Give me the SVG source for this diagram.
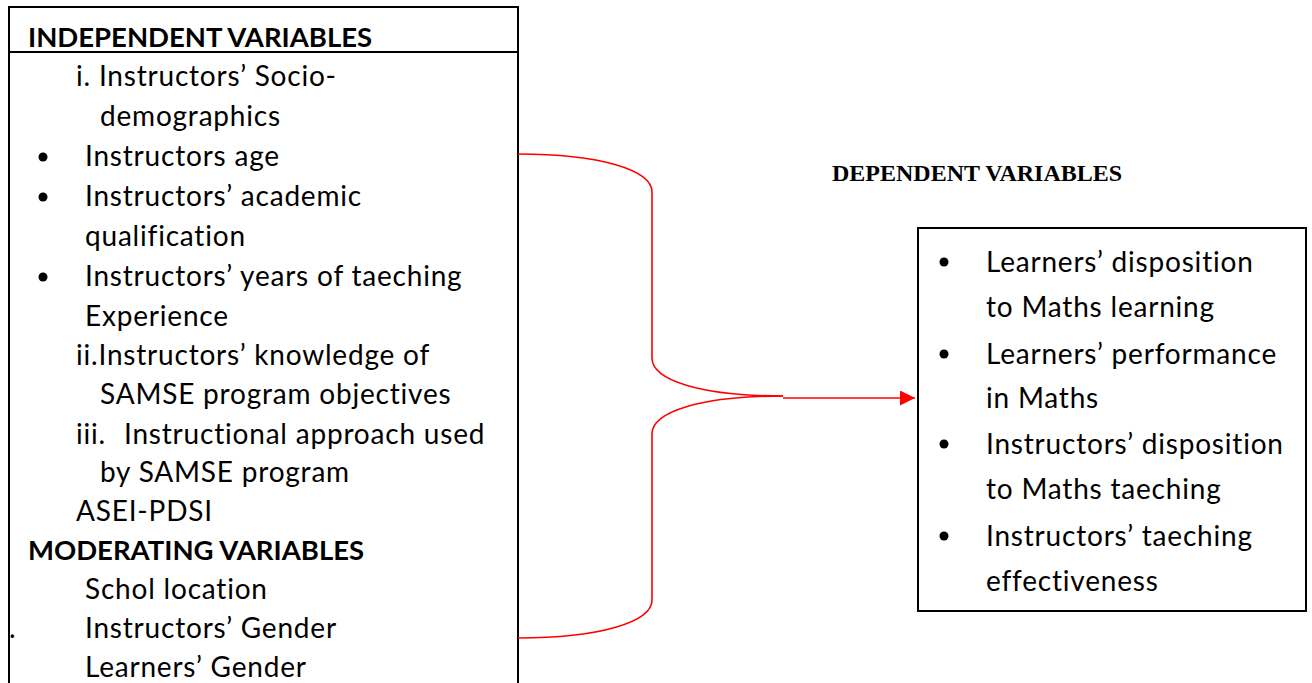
<svg xmlns="http://www.w3.org/2000/svg" width="1312" height="683" viewBox="0 0 1312 683">
<style>
.t{font-family:Lato,"Open Sans",sans-serif;font-size:28px;letter-spacing:0.8px;fill:#000}
.b{font-weight:bold;font-size:27.5px;letter-spacing:0}
.dv{font-family:"Liberation Serif",serif;font-size:24px;font-weight:bold;fill:#000}
.box{fill:#fff;stroke:#000;stroke-width:2}
.red{fill:none;stroke:#f00;stroke-width:1.6}
</style>
<defs>
<marker id="ah" viewBox="0 0 10 10" refX="10" refY="5" markerWidth="15" markerHeight="15" markerUnits="userSpaceOnUse" orient="auto">
<path d="M0,0 L10,5 L0,10 Z" fill="#f00"/>
</marker>
</defs>
<rect width="1312" height="683" fill="#fff"/>
<g id="independent">
<rect class="box" x="9" y="7" width="509" height="690"/>
<line x1="9" y1="52" x2="518" y2="52" stroke="#000" stroke-width="2"/>
<text class="t b" x="28" y="47">INDEPENDENT VARIABLES</text>
<text class="t" x="76" y="86">i. Instructors’ Socio-</text>
<text class="t" x="100" y="126">demographics</text>
<circle cx="43" cy="157" r="4.5"/>
<text class="t" x="85" y="166">Instructors age</text>
<circle cx="43" cy="197" r="4.5"/>
<text class="t" x="85" y="206">Instructors’ academic</text>
<text class="t" x="85" y="246">qualification</text>
<circle cx="43" cy="277" r="4.5"/>
<text class="t" x="85" y="286">Instructors’ years of taeching</text>
<text class="t" x="85" y="326">Experience</text>
<text class="t" x="76" y="365">ii.Instructors’ knowledge of</text>
<text class="t" x="100" y="404">SAMSE program objectives</text>
<text class="t" x="76" y="444">iii.</text>
<text class="t" x="124" y="444">Instructional approach used</text>
<text class="t" x="100" y="482">by  SAMSE program</text>
<text class="t" x="76" y="521">ASEI-PDSI</text>
<text class="t b" x="28" y="560">MODERATING VARIABLES</text>
<text class="t" x="85" y="599">Schol location</text>
<text class="t" x="85" y="638">Instructors’ Gender</text>
<text class="t" x="85" y="677">Learners’ Gender</text>
<text class="t" x="9" y="638">.</text>
</g>
<g id="dependent-label">
<text class="dv" x="832" y="181">DEPENDENT VARIABLES</text>
</g>
<g id="dependent">
<rect class="box" x="918" y="228" width="388" height="383"/>
<circle cx="944" cy="262" r="4.5"/>
<text class="t" x="986" y="272">Learners’ disposition</text>
<text class="t" x="986" y="317">to Maths learning</text>
<circle cx="944" cy="354" r="4.5"/>
<text class="t" x="986" y="364">Learners’ performance</text>
<text class="t" x="986" y="408">in Maths</text>
<circle cx="944" cy="444" r="4.5"/>
<text class="t" x="986" y="454">Instructors’ disposition</text>
<text class="t" x="986" y="499">to Maths taeching</text>
<circle cx="944" cy="536" r="4.5"/>
<text class="t" x="986" y="546">Instructors’ taeching</text>
<text class="t" x="986" y="591">effectiveness</text>
</g>
<g id="connectors">
<path class="red" d="M518,154 C600,154 652,170 652,192 L652,358 C652,380 700,396 783,396"/>
<path class="red" d="M783,396 C700,396 652,412 652,434 L652,600 C652,622 600,638 518,638"/>
<path class="red" d="M783,398 L915,398" marker-end="url(#ah)"/>
</g>
</svg>
